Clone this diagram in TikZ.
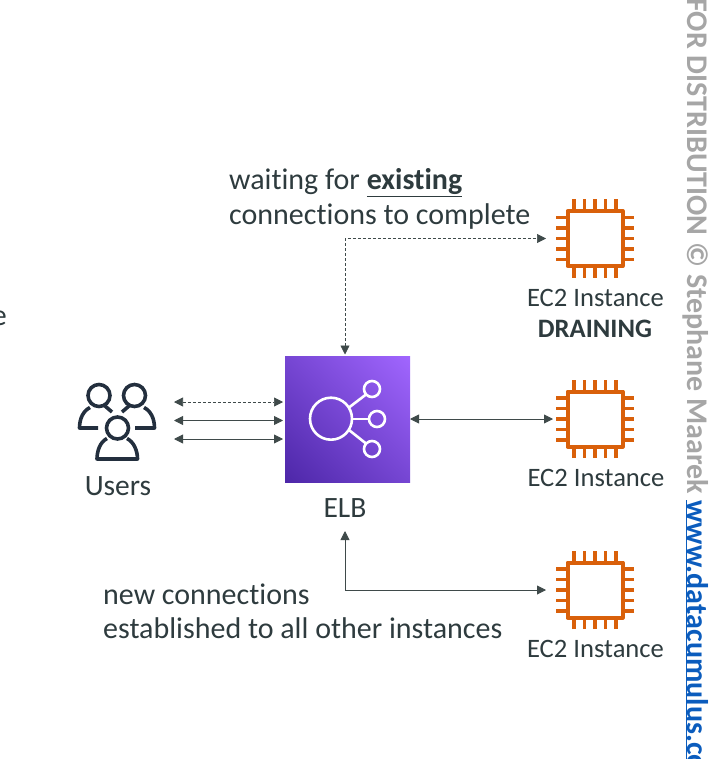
\documentclass[tikz,border=0pt]{standalone}
\usepackage{fontspec}
\setmainfont[Ligatures=NoCommon]{Carlito}
\usetikzlibrary{arrows.meta,shadings}
\definecolor{inktext}{HTML}{2E3B3E}
\definecolor{arrowink}{HTML}{3F4A4A}
\definecolor{chiporange}{HTML}{D9600A}
\definecolor{usernavy}{HTML}{232F3E}
\definecolor{wmgray}{HTML}{A6A6A6}
\definecolor{wmblue}{HTML}{0B5CBD}
\definecolor{elbdark}{HTML}{4D27A8}
\definecolor{elbmid}{HTML}{7646D3}
\definecolor{elblight}{HTML}{A166FF}
\tikzset{
  x=1pt,y=-1pt,
  label text/.style={inner sep=0pt,text=inktext,font=\fontsize{26.6}{26.6}\selectfont,anchor=base},
  big label/.style={inner sep=0pt,text=inktext,font=\fontsize{29.5}{29.5}\selectfont,anchor=base},
  note text/.style={inner sep=0pt,text=inktext,font=\fontsize{30}{30}\selectfont,anchor=base west},
  mark text/.style={inner sep=0pt,rotate=-90,anchor=base west,font=\bfseries\fontsize{30}{30}\selectfont},
  link/.style={{Triangle[length=9pt,width=9pt]}-{Triangle[length=9pt,width=9pt]},draw=arrowink,line width=0.9pt},
  dashlink/.style={link,line width=0.7pt,dash pattern=on 3pt off 2pt},
  chipbody/.style={draw=chiporange,line width=4pt,minimum size=55pt,inner sep=0pt,rectangle,line join=round},
  chippin/.style={draw=chiporange,line width=3.8pt},
  usericon/.style={draw=usernavy,line width=3.6pt,line join=round,line cap=butt},
  elbline/.style={draw=white,line width=2.6pt},
  pics/chip/.style={code={
    \foreach \d in {-21,-10.5,0,10.5,21}{
      \draw[chippin] (\d,-39) -- (\d,-29);
      \draw[chippin] (\d,39) -- (\d,29);
      \draw[chippin] (-39,\d) -- (-29,\d);
      \draw[chippin] (39,\d) -- (29,\d);
    }
  }}
}
\begin{document}
\begin{tikzpicture}
\useasboundingbox (0,0) rectangle (713,759);
% chips
\path (595,238.5) pic {chip};
\path (595,419) pic {chip};
\path (595,590) pic {chip};
\node[chipbody] (chipa) at (595,238.5) {};
\node[chipbody] (chipb) at (595,419) {};
\node[chipbody] (chipc) at (595,590) {};
% ELB
\shade[lower left=elbdark, upper right=elblight, upper left=elbmid, lower right=elbmid] (285,356) rectangle (410,482);
\node[minimum width=125pt,minimum height=126pt,inner sep=0pt] (elb) at (347.5,419) {};
\draw[elbline] (331,418.7) circle (21);
\draw[elbline] (372,389) circle (8);
\draw[elbline] (377,419) circle (8);
\draw[elbline] (372,449) circle (8);
\draw[elbline] (349,407.5) -- (366,394.5);
\draw[elbline] (352,419) -- (369,419);
\draw[elbline] (349,430) -- (366,443.5);
% users
\draw[usericon] (99,395.5) circle (11);
\draw[usericon] (134.5,395.5) circle (11);
\draw[usericon] (117.5,428) circle (11);
\draw[usericon] (90,407.5) .. controls (83,411) and (79.5,419) .. (79.5,428) -- (98,428);
\draw[usericon] (105,406) -- (112,412);
\draw[usericon] (129,406) -- (122,412);
\draw[usericon] (144,407.5) .. controls (151,411) and (154.5,419) .. (154.5,428) -- (135,428);
\draw[usericon] (107,438.5) .. controls (100,442) and (97,451) .. (97,459) -- (137.5,459) .. controls (137.5,451) and (134,442) .. (127,438.5);
\node[big label] (users) at (118,495) {Users};
% labels
\node[big label] (elblabel) at (345,517) {ELB};
\node[label text] (ca) at (595.5,306) {EC2 Instance};
\node[label text,font=\bfseries\fontsize{26.6}{26.6}\selectfont] (drain) at (595,337) {DRAINING};
\node[label text] (cb) at (596,486) {EC2 Instance};
\node[label text] (cc) at (595.5,657) {EC2 Instance};
\node[note text] (noteaa) at (229,189.5) {waiting for \textbf{\underline{existing}}};
\node[note text] (noteab) at (229,225) {connections to complete};
\node[note text] (noteba) at (103,604.5) {new connections};
\node[note text] (notebb) at (103,638.5) {established to all other instances};
% connector ends
\coordinate (ua) at (174,402);
\coordinate (ea) at (283,402);
\coordinate (ub) at (174,420.5);
\coordinate (eb) at (283,420.5);
\coordinate (uc) at (174,439);
\coordinate (ec) at (283,439);
\coordinate (etop) at (345,354.5);
\coordinate (ebot) at (345,531);
\coordinate (eright) at (410,419);
\coordinate (pa) at (546,238.5);
\coordinate (pb) at (553,419);
\coordinate (pc) at (546,590);
\draw[dashlink] (ua) -- (ea);
\draw[link] (ub) -- (eb);
\draw[link] (uc) -- (ec);
\draw[dashlink] (etop) |- (pa);
\draw[link] (eright) -- (pb);
\draw[link] (ebot) |- (pc);
% watermark
\node[mark text,text=wmgray] (wma) at (687.5,-2) {FOR DISTRIBUTION © Stephane Maarek};
\node[mark text,text=wmblue] (wmb) at (687.5,500) {\underline{www.datacumulus.com}};
% clipped word at left margin
\node[inner sep=0pt,anchor=base east,text=inktext,font=\fontsize{30}{30}\selectfont] (stub) at (7,325) {e};
\end{tikzpicture}
\end{document}
